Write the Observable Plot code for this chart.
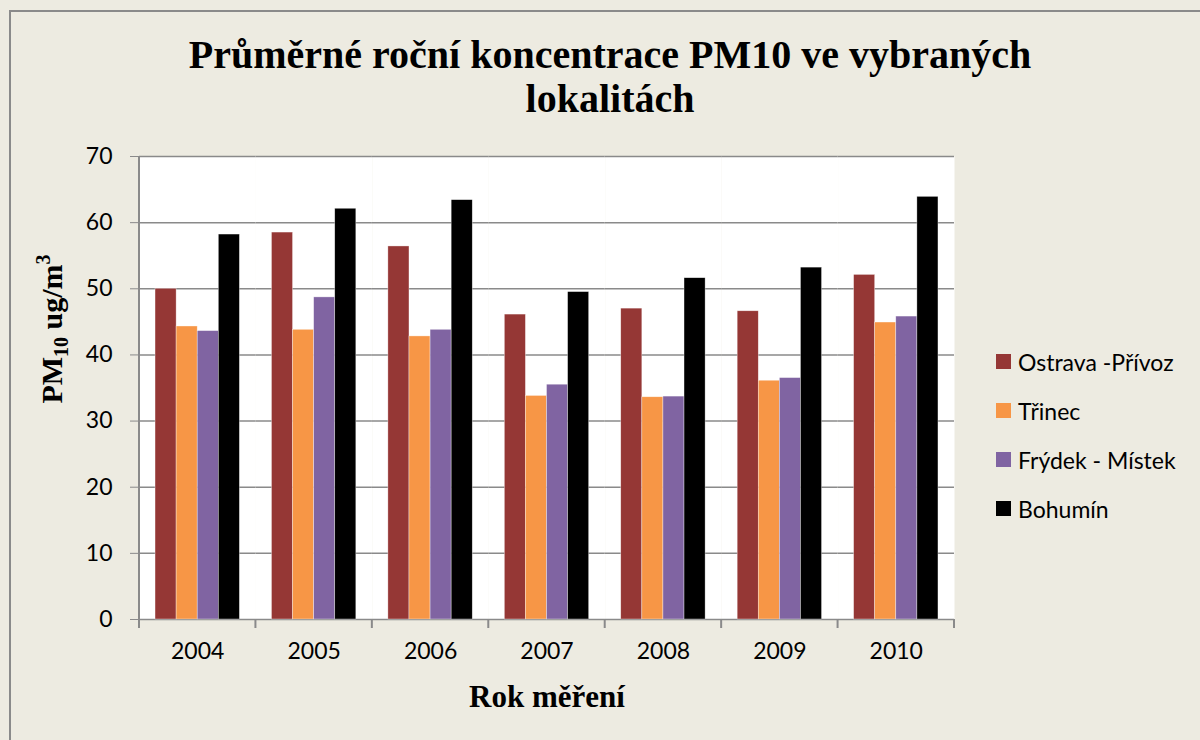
<!DOCTYPE html>
<html>
<head>
<meta charset="utf-8">
<script src="https://cdn.jsdelivr.net/npm/d3@7"></script>
<script src="https://cdn.jsdelivr.net/npm/@observablehq/plot@0.6"></script>
<style>
  html, body { margin: 0; padding: 0; background: #EDEBE1; }
  #wrap { position: relative; width: 1200px; height: 740px; overflow: hidden; background: #EDEBE1; }
  #border { position: absolute; left: 9px; top: 10px; width: 1400px; height: 1000px; border: 2px solid #8a8a8a; box-sizing: border-box; }
  #chart { position: absolute; left: 0; top: 0; }
  #title { position: absolute; left: 0; width: 1220px; top: 33px; text-align: center; font-family: "Liberation Serif", "Times New Roman", serif; font-weight: bold; font-size: 40px; line-height: 44px; color: #000; }
  #ylabel { position: absolute; left: 52px; top: 329px; transform: translate(-50%, -50%) rotate(-90deg); white-space: nowrap; font-family: "Liberation Serif", serif; font-weight: bold; font-size: 30px; color: #000; }
  #ylabel sub { font-size: 20px; vertical-align: -6px; }
  #ylabel sup { font-size: 20px; vertical-align: 12px; }
  #xlabel { position: absolute; left: 547px; top: 697px; transform: translate(-50%, -50%); white-space: nowrap; font-family: "Liberation Serif", serif; font-weight: bold; font-size: 31px; color: #000; }
  #legend { position: absolute; left: 996px; top: 337px; font-family: Lato, "Open Sans", sans-serif; font-size: 23px; color: #000; }
  .li { display: flex; align-items: center; height: 49px; }
  .sw { width: 15px; height: 15px; margin-right: 7px; }
</style>
</head>
<body>
<div id="wrap">
  <div id="border"></div>
  <div id="chart"></div>
  <div id="title">Průměrné roční koncentrace PM10 ve vybraných<br>lokalitách</div>
  <div id="ylabel">PM<sub>10</sub> ug/m<sup>3</sup></div>
  <div id="xlabel">Rok měření</div>
  <div id="legend"></div>
</div>
<script>
const years = ["2004", "2005", "2006", "2007", "2008", "2009", "2010"];
const series = ["Ostrava -Přívoz", "Třinec", "Frýdek - Místek", "Bohumín"];
const colors = ["#953735", "#F79646", "#8064A2", "#000000"];
const ostrava = [50.0, 58.5, 56.4, 46.1, 47.0, 46.6, 52.1];
const trinec  = [44.3, 43.8, 42.8, 33.8, 33.6, 36.1, 44.9];
const frydek  = [43.6, 48.7, 43.8, 35.5, 33.7, 36.5, 45.8];
const bohumin = [58.2, 62.1, 63.4, 49.5, 51.6, 53.2, 63.9];
const yTicks = [0, 10, 20, 30, 40, 50, 60, 70];

const valuesBySeries = [ostrava, trinec, frydek, bohumin];
const data = [];
years.forEach((yr, i) => {
  series.forEach((s, j) => data.push({year: yr, series: s, value: valuesBySeries[j][i]}));
});

const W = 1200, H = 740;
const mL = 139, mR = W - 954, mT = 156, mB = H - 619;
const grid = "#8a8a8a";

const chart = Plot.plot({
  width: W, height: H,
  marginLeft: mL, marginRight: mR, marginTop: mT, marginBottom: mB,
  style: {background: "transparent", fontFamily: "Lato, 'Open Sans', sans-serif", fontSize: "22px", color: "black"},
  fx: {domain: years, padding: 0, round: false, label: null},
  x: {domain: series, axis: null, paddingInner: 0, paddingOuter: 0.76, round: false},
  y: {domain: [0, 70], label: null},
  color: {domain: series, range: colors},
  marks: [
    Plot.frame({fill: "white", stroke: "none"}),
    Plot.gridY(yTicks, {stroke: grid, strokeOpacity: 1, strokeWidth: 1.5}),
    Plot.barY(data, {fx: "year", x: "series", y: "value", fill: "series", stroke: "white", strokeWidth: 0.6, strokeOpacity: 0.6}),
    Plot.axisY(yTicks, {tickSize: 9, tickPadding: 18, stroke: grid, fill: "black", fontSize: 23, label: null}),
    Plot.axisFx({anchor: "bottom", tickSize: 0, tickPadding: 23, fill: "black", fontSize: 23, label: null})
  ]
});
document.getElementById("chart").appendChild(chart);

// y-axis line and group-boundary ticks drawn from the library's fx / y scales
const fx = chart.scale("fx");
const ys = chart.scale("y");
const svg = d3.select(chart);
const y0 = ys.apply(0), y70 = ys.apply(70);
const bw = fx.bandwidth;
const bounds = years.map(yr => fx.apply(yr)).concat([fx.apply(years[years.length - 1]) + bw]);
svg.append("line").attr("x1", bounds[0]).attr("x2", bounds[0]).attr("y1", y70).attr("y2", y0)
  .attr("stroke", grid).attr("stroke-width", 2);
svg.append("g").selectAll("line").data(bounds).join("line")
  .attr("x1", d => d).attr("x2", d => d).attr("y1", y0).attr("y2", y0 + 9)
  .attr("stroke", grid).attr("stroke-width", 2);

const legend = document.getElementById("legend");
series.forEach((s, i) => {
  const row = document.createElement("div");
  row.className = "li";
  const sw = document.createElement("div");
  sw.className = "sw";
  sw.style.background = colors[i];
  const t = document.createElement("span");
  t.textContent = s;
  row.appendChild(sw); row.appendChild(t);
  legend.appendChild(row);
});
</script>
</body>
</html>
